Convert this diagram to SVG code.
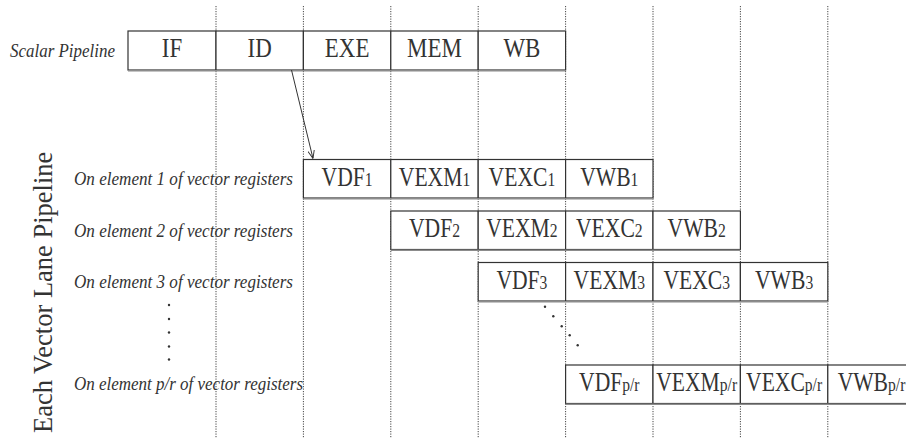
<svg xmlns="http://www.w3.org/2000/svg" width="906" height="438" viewBox="0 0 906 438">
  <style>
    .grid { stroke: #444444; stroke-width: 1; stroke-dasharray: 1.2 1.3; fill: none; }
    .cell { fill: #ffffff; stroke: #333333; stroke-width: 1.2; }
    .shade { stroke: #8c8c8c; stroke-width: 1.6; }
    .stage { font-family: "Liberation Serif", "Times New Roman", serif; font-size: 27px; fill: #333333; text-anchor: middle; }
    .sub { font-size: 19.5px; }
    .label { font-family: "Liberation Serif", "Times New Roman", serif; font-style: italic; font-size: 18.5px; fill: #333333; }
    .axis { font-family: "Liberation Serif", "Times New Roman", serif; font-size: 26.5px; fill: #333333; }
    .conn { stroke: #333333; stroke-width: 1; fill: none; }
    .dot { fill: #333333; }
  </style>
  <defs>
    <marker id="arrow" viewBox="0 0 10 10" refX="10" refY="5" markerWidth="8" markerHeight="8" markerUnits="userSpaceOnUse" orient="auto">
      <path d="M0,1 L10,5 L0,9" fill="none" stroke="#333333" stroke-width="1.2"/>
    </marker>
  </defs>
  <rect width="906" height="438" fill="#ffffff"/>

  <!-- clock-cycle guides -->
  <g id="cycle-grid">
    <line class="grid" x1="216" y1="6" x2="216" y2="438"/>
    <line class="grid" x1="303.4" y1="6" x2="303.4" y2="438"/>
    <line class="grid" x1="390.8" y1="6" x2="390.8" y2="438"/>
    <line class="grid" x1="478.2" y1="6" x2="478.2" y2="438"/>
    <line class="grid" x1="565.6" y1="6" x2="565.6" y2="438"/>
    <line class="grid" x1="653" y1="6" x2="653" y2="438"/>
    <line class="grid" x1="740.4" y1="6" x2="740.4" y2="438"/>
    <line class="grid" x1="827.8" y1="6" x2="827.8" y2="438"/>
  </g>

  <!-- labels -->
  <g id="labels">
    <text class="label" x="10" y="57" textLength="105" lengthAdjust="spacingAndGlyphs">Scalar Pipeline</text>
    <text class="label" x="74" y="185" textLength="219" lengthAdjust="spacingAndGlyphs">On element 1 of vector registers</text>
    <text class="label" x="74" y="236.5" textLength="219" lengthAdjust="spacingAndGlyphs">On element 2 of vector registers</text>
    <text class="label" x="74" y="287.5" textLength="219" lengthAdjust="spacingAndGlyphs">On element 3 of vector registers</text>
    <text class="label" x="74" y="389.5" textLength="229" lengthAdjust="spacingAndGlyphs">On element p/r of vector registers</text>
    <text class="axis" transform="translate(51.5,433) rotate(-90)">Each Vector Lane Pipeline</text>
    <!-- vertical ellipsis -->
    <circle class="dot" cx="169" cy="305" r="1.2"/>
    <circle class="dot" cx="169" cy="319" r="1.2"/>
    <circle class="dot" cx="169" cy="332.5" r="1.2"/>
    <circle class="dot" cx="169" cy="346.5" r="1.2"/>
    <circle class="dot" cx="169" cy="359.5" r="1.2"/>
  </g>

  <!-- scalar pipeline -->
  <g id="scalar">
    <rect class="cell" x="128" y="31" width="88" height="39"/>
    <rect class="cell" x="216" y="31" width="87.4" height="39"/>
    <rect class="cell" x="303.4" y="31" width="87.4" height="39"/>
    <rect class="cell" x="390.8" y="31" width="87.4" height="39"/>
    <rect class="cell" x="478.2" y="31" width="87.4" height="39"/>
    <line class="shade" x1="128" y1="70.8" x2="565.6" y2="70.8"/>
    <text class="stage" transform="translate(172,57) scale(0.85,1)">IF</text>
    <text class="stage" transform="translate(259.7,57) scale(0.85,1)">ID</text>
    <text class="stage" transform="translate(347.1,57) scale(0.85,1)">EXE</text>
    <text class="stage" transform="translate(434.5,57) scale(0.85,1)">MEM</text>
    <text class="stage" transform="translate(521.9,57) scale(0.85,1)">WB</text>
  </g>

  <!-- vector element 1 -->
  <g id="lane-1">
    <rect class="cell" x="303.4" y="159.5" width="87.4" height="38.5"/>
    <rect class="cell" x="390.8" y="159.5" width="87.4" height="38.5"/>
    <rect class="cell" x="478.2" y="159.5" width="87.4" height="38.5"/>
    <rect class="cell" x="565.6" y="159.5" width="87.4" height="38.5"/>
    <line class="shade" x1="303.4" y1="198.8" x2="653" y2="198.8"/>
    <text class="stage" transform="translate(347.1,185.5) scale(0.8,1)">VDF<tspan class="sub">1</tspan></text>
    <text class="stage" transform="translate(434.5,185.5) scale(0.8,1)">VEXM<tspan class="sub">1</tspan></text>
    <text class="stage" transform="translate(521.9,185.5) scale(0.8,1)">VEXC<tspan class="sub">1</tspan></text>
    <text class="stage" transform="translate(609.3,185.5) scale(0.8,1)">VWB<tspan class="sub">1</tspan></text>
  </g>

  <!-- vector element 2 -->
  <g id="lane-2">
    <rect class="cell" x="390.8" y="211" width="87.4" height="38.5"/>
    <rect class="cell" x="478.2" y="211" width="87.4" height="38.5"/>
    <rect class="cell" x="565.6" y="211" width="87.4" height="38.5"/>
    <rect class="cell" x="653" y="211" width="87.4" height="38.5"/>
    <line class="shade" x1="390.8" y1="250.3" x2="740.4" y2="250.3"/>
    <text class="stage" transform="translate(434.5,237) scale(0.8,1)">VDF<tspan class="sub">2</tspan></text>
    <text class="stage" transform="translate(521.9,237) scale(0.8,1)">VEXM<tspan class="sub">2</tspan></text>
    <text class="stage" transform="translate(609.3,237) scale(0.8,1)">VEXC<tspan class="sub">2</tspan></text>
    <text class="stage" transform="translate(696.7,237) scale(0.8,1)">VWB<tspan class="sub">2</tspan></text>
  </g>

  <!-- vector element 3 -->
  <g id="lane-3">
    <rect class="cell" x="478.2" y="262.5" width="87.4" height="38.5"/>
    <rect class="cell" x="565.6" y="262.5" width="87.4" height="38.5"/>
    <rect class="cell" x="653" y="262.5" width="87.4" height="38.5"/>
    <rect class="cell" x="740.4" y="262.5" width="87.4" height="38.5"/>
    <line class="shade" x1="478.2" y1="301.8" x2="827.8" y2="301.8"/>
    <text class="stage" transform="translate(521.9,288.5) scale(0.8,1)">VDF<tspan class="sub">3</tspan></text>
    <text class="stage" transform="translate(609.3,288.5) scale(0.8,1)">VEXM<tspan class="sub">3</tspan></text>
    <text class="stage" transform="translate(696.7,288.5) scale(0.8,1)">VEXC<tspan class="sub">3</tspan></text>
    <text class="stage" transform="translate(784.1,288.5) scale(0.8,1)">VWB<tspan class="sub">3</tspan></text>
  </g>

  <!-- diagonal ellipsis -->
  <g id="lane-gap">
    <circle class="dot" cx="545" cy="306.7" r="1.2"/>
    <circle class="dot" cx="553.3" cy="316.3" r="1.2"/>
    <circle class="dot" cx="561.7" cy="326.3" r="1.2"/>
    <circle class="dot" cx="569.7" cy="335.3" r="1.2"/>
    <circle class="dot" cx="577.7" cy="345.3" r="1.2"/>
  </g>

  <!-- vector element p/r -->
  <g id="lane-pr">
    <rect class="cell" x="565.6" y="365" width="87.4" height="38.5"/>
    <rect class="cell" x="653" y="365" width="87.4" height="38.5"/>
    <rect class="cell" x="740.4" y="365" width="87.4" height="38.5"/>
    <rect class="cell" x="827.8" y="365" width="87.4" height="38.5"/>
    <line class="shade" x1="565.6" y1="404.3" x2="906" y2="404.3"/>
    <text class="stage" transform="translate(609.3,391) scale(0.8,1)">VDF<tspan class="sub">p/r</tspan></text>
    <text class="stage" transform="translate(696.7,391) scale(0.8,1)">VEXM<tspan class="sub">p/r</tspan></text>
    <text class="stage" transform="translate(784.1,391) scale(0.8,1)">VEXC<tspan class="sub">p/r</tspan></text>
    <text class="stage" transform="translate(871.5,391) scale(0.8,1)">VWB<tspan class="sub">p/r</tspan></text>
  </g>

  <!-- connectors -->
  <g id="connectors">
    <line class="conn" x1="291.5" y1="70" x2="313" y2="158.5" marker-end="url(#arrow)"/>
  </g>
</svg>
